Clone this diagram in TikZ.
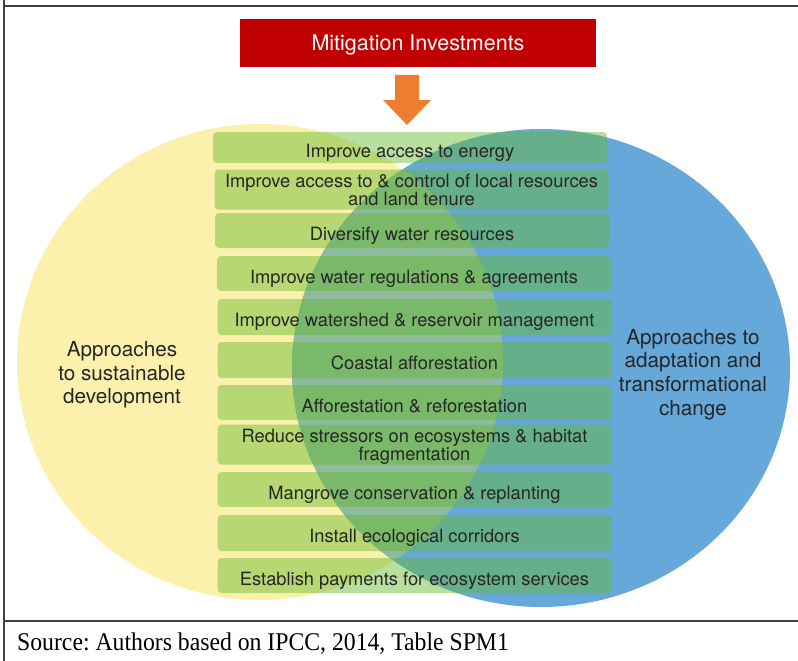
\documentclass[tikz,border=0pt]{standalone}
\usepackage{fontspec}
\setmainfont{TeX Gyre Heros}
\newfontfamily\srcfont[FakeStretch=0.93]{Liberation Serif}
\usetikzlibrary{calc}
\frenchspacing

\definecolor{mitred}{HTML}{C00000}
\definecolor{arroworange}{HTML}{ED7D31}
\definecolor{sdyellow}{HTML}{FBF1AC}
\definecolor{adblue}{HTML}{66A8DA}
\definecolor{lensgreen}{HTML}{8EBB9E}
\definecolor{boxgreen}{HTML}{64B82C}
\definecolor{txtgray}{HTML}{262626}
\definecolor{framegray}{HTML}{404040}

\tikzset{
	option box/.style={fill=boxgreen, fill opacity=0.45, text opacity=1, rounded corners=4pt,
		minimum width=394pt, inner sep=0pt, align=center, text=txtgray,
		font=\fontsize{18.3}{18}\selectfont},
	circle label/.style={align=center, text=txtgray, font=\fontsize{20.7}{23.6}\selectfont},
	frame line/.style={draw=framegray, line width=1.2pt}
}

\begin{document}
\begin{tikzpicture}[x=1pt, y=-1pt]
		\useasboundingbox (0,0) rectangle (798,661);
		
		% Frame
		\draw[frame line] (4,0) -- (4,661);
		\draw[frame line] (4,6) -- (798,6);
		\draw[frame line] (4,621) -- (798,621);
		
		% Circles
		\fill[sdyellow] (260,362) ellipse [x radius=243pt, y radius=238pt];
		\fill[adblue] (541,368) ellipse [x radius=249pt, y radius=239pt];
		\begin{scope}
			\clip (260,362) ellipse [x radius=243pt, y radius=238pt];
			\fill[lensgreen] (541,368) ellipse [x radius=249pt, y radius=239pt];
		\end{scope}
		
		\node[circle label] (sust) at (122,375) {Approaches\\to sustainable\\development};
		\node[circle label] (adapt) at (693,374.5) {Approaches to\\adaptation and\\transformational\\change};
		
		% Mitigation box and arrow
		\node[fill=mitred, text=white, minimum width=356pt, minimum height=48pt, inner sep=0pt,
			font=\fontsize{21.5}{24}\selectfont] (mit) at (418,43)
			{\rule{0pt}{21pt}Mitigation Investments\rule[-5pt]{0pt}{0pt}};
		\fill[arroworange] (395,75) -- (419,75) -- (419,100) -- (431,100) -- (407,125)
			-- (383,100) -- (395,100) -- cycle;
		
		% Options (\t = strut above the first line)
		\foreach \x/\y/\h/\t/\txt [count=\i] in {
			410/147.5/31/23/{Improve access to energy},
			411.5/189.5/39/18/{Improve access to \& control of local resources\\and land tenure},
			412/230.5/35/23/{Diversify water resources},
			414/273.5/35/23/{Improve water regulations \& agreements},
			414.5/317/36/23/{Improve watershed \& reservoir management},
			414.5/360/36/23/{Coastal afforestation},
			414.5/402.5/35/23/{Afforestation \& reforestation},
			414.5/444.5/39/18/{Reduce stressors on ecosystems \& habitat\\fragmentation},
			414.5/489.5/35/23/{Mangrove conservation \& replanting},
			414.5/533/36/23/{Install ecological corridors},
			414.5/575.5/35/23/{Establish payments for ecosystem services}} {
			\node[option box, minimum height=\h pt] (b\i) at (\x,\y)
				{\rule{0pt}{\t pt}\txt\rule[-4pt]{0pt}{0pt}};
		}
		
		% Source
		\node[anchor=base west, inner sep=0pt, font=\srcfont\fontsize{25.5}{28}\selectfont] (src) at (17,650)
			{Source: Authors based on IPCC, 2014, Table SPM1};
		
	\end{tikzpicture}
\end{document}
